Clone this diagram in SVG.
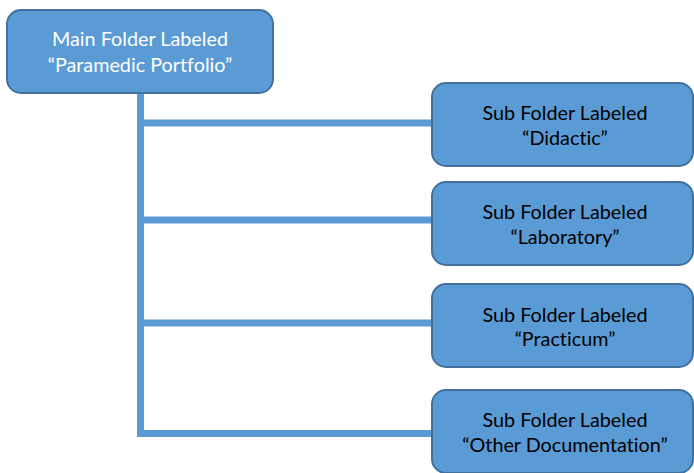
<svg xmlns="http://www.w3.org/2000/svg" width="694" height="473" viewBox="0 0 694 473">
<style>
.box{fill:#5B9BD5;stroke:#41719C;stroke-width:2}
.conn{stroke:#5B9BD5;stroke-width:7;fill:none}
.t{font-family:Lato,"Liberation Sans",sans-serif;font-size:19.8px;text-anchor:middle;font-variant-ligatures:none}
.w{fill:#FFFFFF}
.b{fill:#000000}
</style>
<rect width="694" height="473" fill="#FFFFFF"/>
<g id="connectors">
<path class="conn" d="M140.5,93 V437"/>
<line class="conn" x1="137" y1="123" x2="432" y2="123"/>
<line class="conn" x1="137" y1="220" x2="432" y2="220"/>
<line class="conn" x1="137" y1="323" x2="432" y2="323"/>
<line class="conn" x1="137" y1="433.5" x2="432" y2="433.5"/>
</g>
<g id="main">
<rect class="box" x="7" y="10" width="266" height="83" rx="14"/>
<text class="t w" x="140" y="46">Main Folder Labeled</text>
<text class="t w" x="140" y="72">“Paramedic Portfolio”</text>
</g>
<g id="didactic">
<rect class="box" x="432" y="83" width="261" height="83" rx="14"/>
<text class="t b" x="565" y="120">Sub Folder Labeled</text>
<text class="t b" x="565" y="145">“Didactic”</text>
</g>
<g id="laboratory">
<rect class="box" x="432" y="182" width="261" height="83" rx="14"/>
<text class="t b" x="565" y="219">Sub Folder Labeled</text>
<text class="t b" x="565" y="244">“Laboratory”</text>
</g>
<g id="practicum">
<rect class="box" x="432" y="284" width="261" height="83" rx="14"/>
<text class="t b" x="565" y="322">Sub Folder Labeled</text>
<text class="t b" x="565" y="346">“Practicum”</text>
</g>
<g id="other">
<rect class="box" x="432" y="390" width="261" height="83" rx="14"/>
<text class="t b" x="565" y="427">Sub Folder Labeled</text>
<text class="t b" x="565" y="452">“Other Documentation”</text>
</g>
</svg>
